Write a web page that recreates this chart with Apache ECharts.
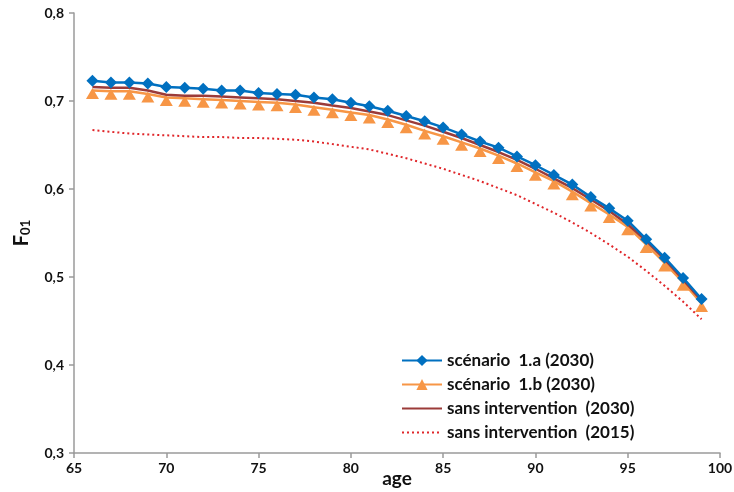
<!DOCTYPE html>
<html>
<head>
<meta charset="utf-8">
<script src="https://cdn.jsdelivr.net/npm/echarts@6/dist/echarts.min.js"></script>
<style>
html,body{margin:0;padding:0;background:#fff;}
#chart{width:734px;height:492px;}
</style>
</head>
<body>
<div id="chart"></div>
<script>
var ages = [66,67,68,69,70,71,72,73,74,75,76,77,78,79,80,81,82,83,84,85,86,87,88,89,90,91,92,93,94,95,96,97,98,99];
var scenarioA2030 = [0.723,0.721,0.721,0.720,0.716,0.715,0.714,0.712,0.712,0.709,0.708,0.707,0.704,0.702,0.698,0.694,0.689,0.683,0.677,0.670,0.662,0.654,0.647,0.637,0.627,0.616,0.605,0.591,0.578,0.564,0.543,0.522,0.499,0.475];
var scenarioB2030 = [0.712,0.711,0.711,0.708,0.704,0.703,0.702,0.701,0.700,0.699,0.698,0.696,0.693,0.690,0.687,0.684,0.679,0.673,0.666,0.660,0.653,0.646,0.638,0.629,0.619,0.609,0.597,0.584,0.571,0.557,0.537,0.516,0.494,0.470];
var sansIntervention2030 = [0.716,0.715,0.715,0.712,0.707,0.706,0.706,0.705,0.704,0.703,0.702,0.700,0.698,0.695,0.692,0.688,0.684,0.678,0.672,0.665,0.658,0.650,0.642,0.633,0.623,0.612,0.601,0.588,0.575,0.560,0.541,0.520,0.497,0.473];
var sansIntervention2015 = [0.667,0.665,0.663,0.662,0.661,0.660,0.659,0.659,0.658,0.658,0.657,0.656,0.654,0.651,0.648,0.645,0.640,0.635,0.629,0.623,0.616,0.609,0.601,0.593,0.583,0.573,0.562,0.550,0.537,0.523,0.507,0.490,0.472,0.452];
var seriesNames = ['scénario  1.a (2030)','scénario  1.b (2030)','sans intervention  (2030)','sans intervention  (2015)'];

function pairs(arr){ return ages.map(function(a,i){ return [a, arr[i]]; }); }

var FONT = 'Lato';
var chart = echarts.init(document.getElementById('chart'), null, {renderer:'canvas'});
chart.setOption({
  animation: false,
  backgroundColor: '#ffffff',
  grid: {left: 74, right: 14, top: 13, bottom: 39, outerBoundsMode: 'none', containLabel: false},
  legend: {
    orient: 'vertical',
    left: 396, top: 347,
    itemWidth: 40, itemHeight: 14, itemGap: 7,
    textStyle: {fontFamily: FONT, fontWeight: 'bold', fontSize: 17, color: '#111', lineHeight: 14},
    data: [
      {name: seriesNames[0]},
      {name: seriesNames[1]},
      {name: seriesNames[2], itemStyle: {opacity: 0}},
      {name: seriesNames[3], itemStyle: {opacity: 0}}
    ]
  },
  xAxis: {
    type: 'value', min: 65, max: 100, interval: 5,
    name: 'age', nameLocation: 'middle', nameGap: 16, nameMoveOverlap: false,
    nameTextStyle: {fontFamily: FONT, fontWeight: 'bold', fontSize: 19, color: '#111'},
    axisLine: {show: true, lineStyle: {color: '#9a9a9a', width: 1.5}},
    axisTick: {show: true, length: 5, lineStyle: {color: '#9a9a9a', width: 1.5}},
    axisLabel: {fontFamily: FONT, fontWeight: 'bold', fontSize: 14, color: '#111', margin: 8},
    splitLine: {show: false}
  },
  yAxis: {
    type: 'value', min: 0.3, max: 0.8, interval: 0.1,
    name: '{f|F}{s|01}', nameLocation: 'middle', nameGap: 42, nameRotate: 90, nameMoveOverlap: false,
    nameTextStyle: {
      rich: {
        f: {fontFamily: FONT, fontWeight: 'bold', fontSize: 20, color: '#111'},
        s: {fontFamily: FONT, fontWeight: 'bold', fontSize: 13, color: '#111', padding: [8,0,0,0]}
      }
    },
    axisLine: {show: true, lineStyle: {color: '#9a9a9a', width: 1.5}},
    axisTick: {show: true, length: 5, lineStyle: {color: '#9a9a9a', width: 1.5}},
    axisLabel: {
      fontFamily: FONT, fontWeight: 'bold', fontSize: 14, color: '#111', margin: 10,
      formatter: function(v){ return v.toFixed(1).replace('.', ','); }
    },
    splitLine: {show: false}
  },
  series: [
    {
      name: seriesNames[0], type: 'line', data: pairs(scenarioA2030), z: 5,
      symbol: 'diamond', symbolSize: [12, 12], showSymbol: true,
      lineStyle: {color: '#0070C0', width: 2.5},
      itemStyle: {color: '#0070C0'}
    },
    {
      name: seriesNames[1], type: 'line', data: pairs(scenarioB2030), z: 3,
      symbol: 'triangle', symbolSize: [13, 11], symbolOffset: [0, 3], showSymbol: true,
      lineStyle: {color: '#F79646', width: 2.5},
      itemStyle: {color: '#F79646'}
    },
    {
      name: seriesNames[2], type: 'line', data: pairs(sansIntervention2030), z: 4,
      symbol: 'none',
      lineStyle: {color: '#9B3B39', width: 2.5},
      itemStyle: {color: '#9B3B39'}
    },
    {
      name: seriesNames[3], type: 'line', data: pairs(sansIntervention2015), z: 2,
      symbol: 'none',
      lineStyle: {color: '#E0262A', width: 2, type: [2, 3]},
      itemStyle: {color: '#E0262A'}
    }
  ]
});
</script>
</body>
</html>
